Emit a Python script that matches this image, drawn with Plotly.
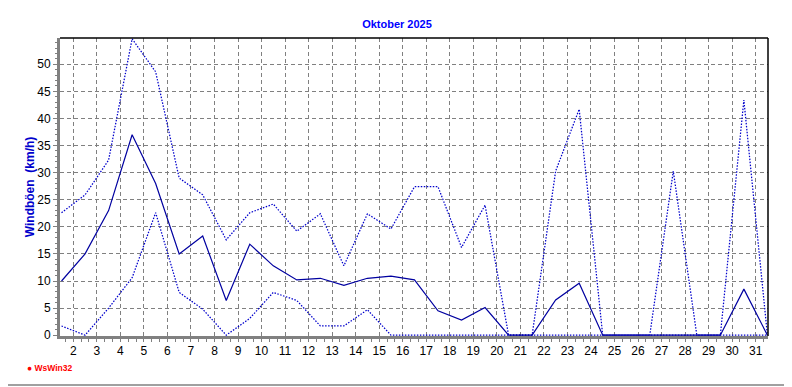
import plotly.graph_objects as go

days = list(range(1, 32))
x_pos = [d + 0.5 for d in days]

gust_mean = [10.0, 15.0, 23.0, 37.0, 28.0, 15.0, 18.3, 6.4, 16.8, 12.8,
             10.2, 10.5, 9.2, 10.5, 10.9, 10.2, 4.5, 2.8, 5.1, 0.0,
             0.0, 6.5, 9.6, 0.0, 0.0, 0.0, 0.0, 0.0, 0.0, 8.5, 0.0]
gust_max = [22.6, 25.9, 32.3, 54.7, 48.6, 29.0, 25.9, 17.6, 22.6, 24.2,
            19.2, 22.4, 12.8, 22.4, 19.6, 27.4, 27.4, 16.2, 24.0, 0.0,
            0.0, 30.3, 41.7, 0.0, 0.0, 0.0, 30.3, 0.0, 0.0, 43.4, 0.0]
gust_min = [1.7, 0.0, 5.0, 10.6, 22.6, 7.9, 4.8, 0.0, 3.1, 7.9,
            6.4, 1.7, 1.7, 4.7, 0.0, 0.0, 0.0, 0.0, 0.0, 0.0,
            0.0, 0.0, 0.0, 0.0, 0.0, 0.0, 0.0, 0.0, 0.0, 0.0, 0.0]

x_ticks = list(range(2, 32))
y_ticks = list(range(0, 55, 5))

FONT = "Liberation Sans, Arial, sans-serif"

fig = go.Figure()
fig.add_trace(go.Scatter(x=x_pos, y=gust_max, mode="lines",
                         line=dict(color="#0000CC", width=1.25, dash="1.5px,1.5px"),
                         hoverinfo="skip"))
fig.add_trace(go.Scatter(x=x_pos, y=gust_min, mode="lines",
                         line=dict(color="#0000CC", width=1.25, dash="1.5px,1.5px"),
                         hoverinfo="skip"))
fig.add_trace(go.Scatter(x=x_pos, y=gust_mean, mode="lines",
                         line=dict(color="#0000A0", width=1.2),
                         hoverinfo="skip"))

# page body has an 8px margin; compensate so the plot area sits at 60..768 x 38..336
OFF = 8
L, R, T, B = 60 - OFF, 24, 38 - OFF, 51
W, H = 792 - OFF, 387 - OFF
pw, ph = W - L - R, H - T - B

def px_x(px):
    return (px - OFF - L) / pw

def px_y(py):
    return (H - B - (py - OFF)) / ph

shapes = [
    dict(type="line", xref="paper", yref="paper", x0=0, x1=1, y0=1, y1=1,
         line=dict(color="black", width=1.5)),
    dict(type="line", xref="paper", yref="paper", x0=1, x1=1, y0=0, y1=1,
         line=dict(color="black", width=1.5)),
    dict(type="line", xref="paper", yref="paper", x0=px_x(788), x1=px_x(788),
         y0=px_y(385), y1=px_y(8), line=dict(color="#A0A0A0", width=2)),
    dict(type="line", xref="paper", yref="paper", x0=px_x(8), x1=px_x(788),
         y0=px_y(385), y1=px_y(385), line=dict(color="#A0A0A0", width=2)),
]

fig.update_layout(
    width=W, height=H,
    margin=dict(l=L, r=R, t=T, b=B, pad=0),
    paper_bgcolor="white", plot_bgcolor="white",
    showlegend=False,
    shapes=shapes,
    title=dict(text="<b>Oktober 2025</b>", x=px_x(397), xref="paper",
               xanchor="center", y=1 - (24 - OFF) / H, yanchor="middle",
               font=dict(family=FONT, size=11, color="#0000FF")),
    annotations=[
        dict(text="<b>● WsWin32</b>", xref="paper", yref="paper",
             x=px_x(25), y=px_y(368), xanchor="left", yanchor="middle",
             showarrow=False, font=dict(family=FONT, size=8.5, color="#FF0000")),
    ],
)

fig.update_xaxes(
    range=[1.435, 31.525],
    tickmode="array", tickvals=x_ticks, ticktext=[str(t) for t in x_ticks],
    showgrid=True, gridcolor="#808080", gridwidth=1, griddash="4px,3px",
    zeroline=False,
    showline=True, linecolor="#808080", linewidth=3,
    ticks="outside", ticklen=3, tickcolor="#808080", tickwidth=1,
    ticklabelstandoff=-1,
    minor=dict(dtick=1 / 3, tick0=0, ticks="outside", ticklen=3,
               tickcolor="#808080", showgrid=False),
    tickfont=dict(family=FONT, size=12, color="black"),
)
fig.update_yaxes(
    range=[-0.15, 54.85],
    tickmode="array", tickvals=y_ticks, ticktext=[str(t) for t in y_ticks],
    showgrid=True, gridcolor="#808080", gridwidth=1, griddash="4px,3px",
    zeroline=False,
    showline=True, linecolor="#808080", linewidth=3,
    ticks="outside", ticklen=4, tickcolor="#808080", tickwidth=1,
    minor=dict(dtick=1, tick0=0, ticks="outside", ticklen=2,
               tickcolor="#808080", showgrid=False),
    tickfont=dict(family=FONT, size=12, color="black"),
    title=dict(text="<b>Windböen  (km/h)</b>", standoff=1,
               font=dict(family=FONT, size=12, color="#0000CC")),
)

fig.write_html("out.html")
